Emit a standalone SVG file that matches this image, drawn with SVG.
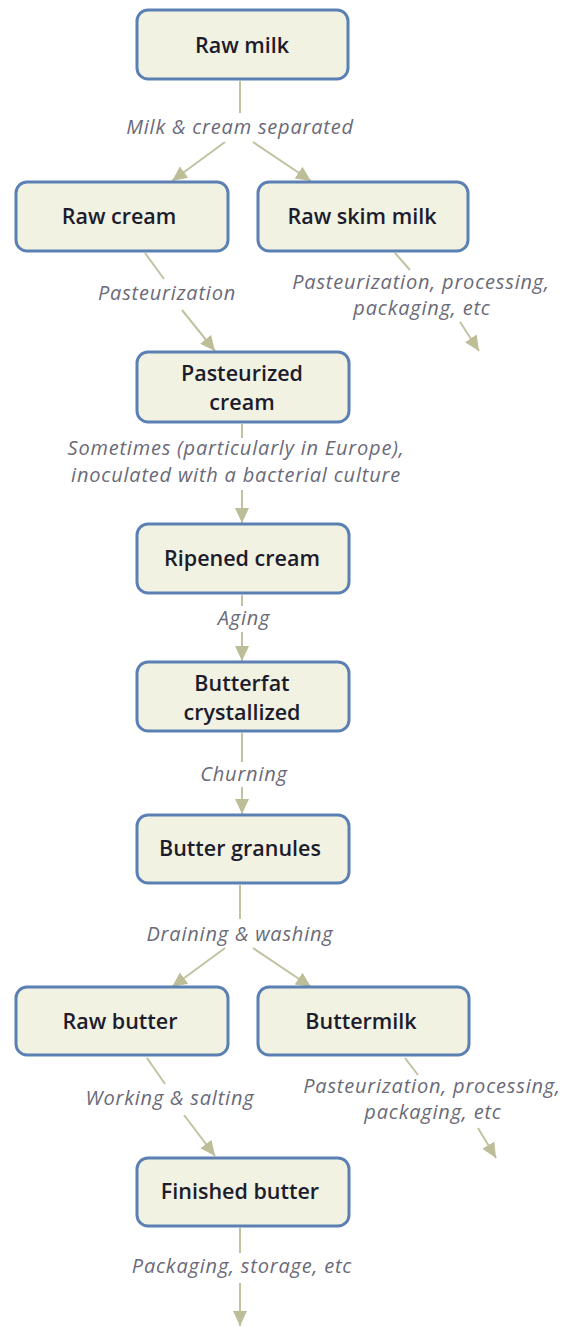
<svg xmlns="http://www.w3.org/2000/svg" width="566" height="1327" viewBox="0 0 566 1327">
<defs>
<marker id="ah" markerUnits="userSpaceOnUse" markerWidth="16" markerHeight="16" refX="15" refY="8" orient="auto">
<path d="M0,1 L15,8 L0,15 z" fill="#bdbd98"/>
</marker>
<style>
.box{fill:#f2f2e2;stroke:#5a80b4;stroke-width:3}
.nt{font-family:"Open Sans","Noto Sans",sans-serif;font-size:21.5px;font-weight:600;fill:#1c1c2c;text-anchor:middle}
.lb{font-family:"Open Sans","Noto Sans",sans-serif;font-size:20px;letter-spacing:0.8px;font-style:italic;fill:#6a6a78;text-anchor:middle}
.c{stroke:#c2c2a2;stroke-width:2;fill:none}
.a{stroke:#c2c2a2;stroke-width:2;fill:none;marker-end:url(#ah)}
</style>
</defs>
<rect width="566" height="1327" fill="#ffffff"/>
<g id="connectors">
<line class="c" x1="240" y1="81" x2="240" y2="113"/>
<text class="lb" x="240" y="134">Milk &amp; cream separated</text>
<line class="a" x1="225" y1="142" x2="172" y2="181"/>
<line class="a" x1="253" y1="142" x2="311" y2="181"/>

<line class="c" x1="145" y1="253" x2="164" y2="279"/>
<text class="lb" x="167" y="300">Pasteurization</text>
<line class="a" x1="182" y1="310" x2="215" y2="351"/>

<line class="c" x1="395" y1="253" x2="410" y2="270"/>
<text class="lb" x="421" y="289">Pasteurization, processing,</text>
<text class="lb" x="422" y="315">packaging, etc</text>
<line class="a" x1="460" y1="322" x2="479" y2="351"/>

<line class="c" x1="242" y1="424" x2="242" y2="438"/>
<text class="lb" x="236" y="455">Sometimes (particularly in Europe),</text>
<text class="lb" x="236" y="482">inoculated with a bacterial culture</text>
<line class="a" x1="242" y1="490" x2="242" y2="523"/>

<line class="c" x1="242" y1="595" x2="242" y2="606"/>
<text class="lb" x="244" y="625">Aging</text>
<line class="a" x1="242" y1="632" x2="242" y2="661"/>

<line class="c" x1="242" y1="733" x2="242" y2="762"/>
<text class="lb" x="244" y="781">Churning</text>
<line class="a" x1="242" y1="787" x2="242" y2="814"/>

<line class="c" x1="240" y1="885" x2="240" y2="919"/>
<text class="lb" x="240" y="941">Draining &amp; washing</text>
<line class="a" x1="225" y1="948" x2="172" y2="987"/>
<line class="a" x1="253" y1="948" x2="311" y2="987"/>

<line class="c" x1="147" y1="1058" x2="165" y2="1084"/>
<text class="lb" x="170" y="1105">Working &amp; salting</text>
<line class="a" x1="184" y1="1115" x2="215" y2="1156"/>

<line class="c" x1="405" y1="1058" x2="418" y2="1075"/>
<text class="lb" x="432" y="1093">Pasteurization, processing,</text>
<text class="lb" x="433" y="1119">packaging, etc</text>
<line class="a" x1="478" y1="1128" x2="496" y2="1158"/>

<line class="c" x1="240" y1="1228" x2="240" y2="1253"/>
<text class="lb" x="242" y="1273">Packaging, storage, etc</text>
<line class="a" x1="240" y1="1283" x2="240" y2="1326"/>
</g>
<g id="raw-milk"><rect class="box" x="137" y="10" width="211" height="69" rx="11"/><text class="nt" x="242" y="53">Raw milk</text></g>
<g id="raw-cream"><rect class="box" x="16" y="182" width="212" height="69" rx="11"/><text class="nt" x="119" y="224">Raw cream</text></g>
<g id="raw-skim-milk"><rect class="box" x="258" y="182" width="210" height="69" rx="11"/><text class="nt" x="362" y="224">Raw skim milk</text></g>
<g id="pasteurized-cream"><rect class="box" x="137" y="352" width="212" height="70" rx="11"/><text class="nt" x="242" y="381">Pasteurized</text><text class="nt" x="242" y="410">cream</text></g>
<g id="ripened-cream"><rect class="box" x="137" y="524" width="212" height="69" rx="11"/><text class="nt" x="242" y="566">Ripened cream</text></g>
<g id="butterfat"><rect class="box" x="137" y="662" width="212" height="69" rx="11"/><text class="nt" x="242" y="691">Butterfat</text><text class="nt" x="242" y="720">crystallized</text></g>
<g id="butter-granules"><rect class="box" x="137" y="815" width="212" height="68" rx="11"/><text class="nt" x="240" y="856">Butter granules</text></g>
<g id="raw-butter"><rect class="box" x="16" y="987" width="212" height="68" rx="11"/><text class="nt" x="120" y="1029">Raw butter</text></g>
<g id="buttermilk"><rect class="box" x="258" y="987" width="211" height="68" rx="11"/><text class="nt" x="361" y="1029">Buttermilk</text></g>
<g id="finished-butter"><rect class="box" x="137" y="1158" width="212" height="68" rx="11"/><text class="nt" x="240" y="1199">Finished butter</text></g>
</svg>
